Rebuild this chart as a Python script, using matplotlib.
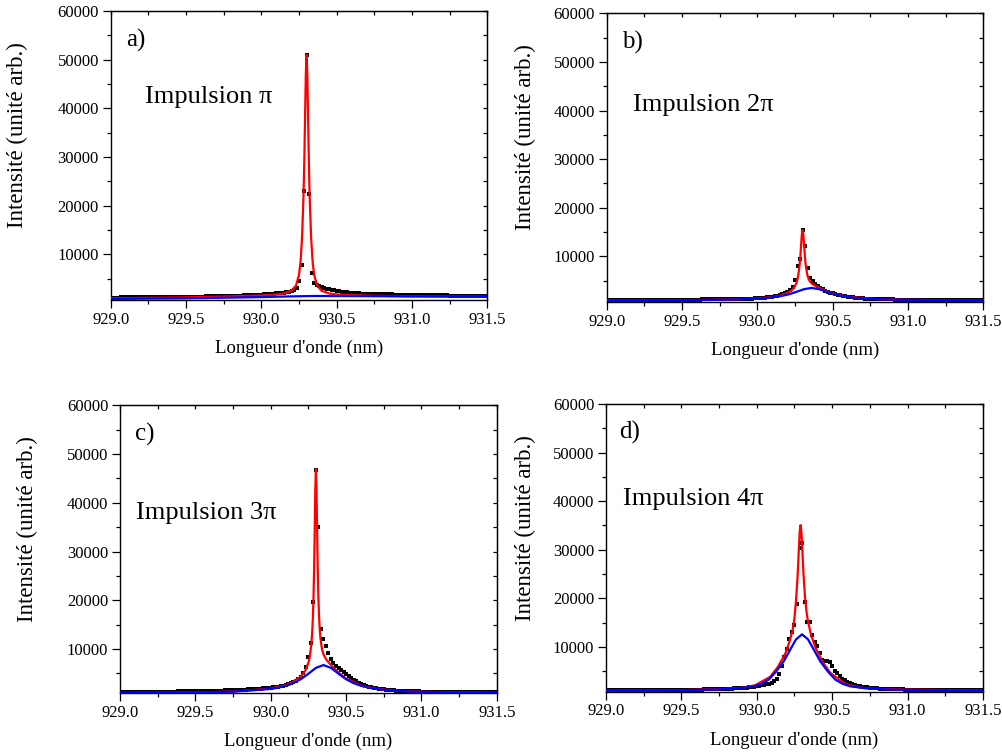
import matplotlib
matplotlib.use('Agg')
import matplotlib.pyplot as plt
import numpy as np
from matplotlib.ticker import MultipleLocator, FormatStrFormatter

plt.rcParams['font.family'] = ['Liberation Serif', 'DejaVu Serif']

# wavelength grid of the measured spectra (nm), one pixel every 1/60 nm
wl = 929.0 + np.arange(151) / 60.0

data_a = [1100, 1100, 1110, 1110, 1120, 1120, 1130, 1130, 1140, 1140,
          1150, 1150, 1160, 1160, 1170, 1170, 1180, 1180, 1190, 1190,
          1200, 1200, 1210, 1210, 1220, 1220, 1230, 1230, 1240, 1250,
          1250, 1260, 1270, 1280, 1290, 1300, 1310, 1320, 1330, 1340,
          1350, 1360, 1370, 1390, 1400, 1420, 1430, 1450, 1460, 1480,
          1500, 1510, 1530, 1550, 1570, 1590, 1610, 1630, 1660, 1690,
          1720, 1750, 1780, 1820, 1860, 1900, 1950, 2000, 2060, 2130,
          2220, 2330, 2480, 2700, 3100, 4500, 7700, 23000, 51000, 22400,
          6200, 4200, 3700, 3400, 3200, 3050, 2900, 2780, 2670, 2560,
          2460, 2380, 2300, 2230, 2170, 2120, 2070, 2030, 1990, 1960,
          1930, 1900, 1880, 1860, 1840, 1820, 1800, 1790, 1780, 1770,
          1760, 1750, 1740, 1730, 1720, 1710, 1700, 1690, 1680, 1670,
          1660, 1650, 1640, 1630, 1620, 1610, 1600, 1600, 1590, 1580,
          1570, 1560, 1560, 1550, 1540, 1530, 1530, 1520, 1510, 1500,
          1500, 1490, 1480, 1480, 1470, 1460, 1460, 1450, 1440, 1440, 1430]

data_b = [1000, 1000, 1000, 1000, 1010, 1010, 1010, 1010, 1020, 1020,
          1020, 1020, 1030, 1030, 1030, 1030, 1040, 1040, 1040, 1040,
          1050, 1050, 1050, 1060, 1060, 1060, 1070, 1070, 1070, 1080,
          1080, 1080, 1090, 1090, 1100, 1100, 1110, 1110, 1120, 1120,
          1130, 1130, 1140, 1150, 1150, 1160, 1170, 1180, 1190, 1200,
          1210, 1220, 1230, 1240, 1260, 1270, 1290, 1300, 1320, 1340,
          1360, 1400, 1450, 1510, 1570, 1640, 1720, 1810, 1920, 2070,
          2250, 2450, 2700, 3100, 3700, 5100, 8000, 9500, 15500, 12100,
          7500, 5500, 4950, 4400, 3900, 3500, 3200, 2950, 2700, 2550,
          2400, 2250, 2100, 1970, 1850, 1750, 1660, 1590, 1530, 1470,
          1420, 1380, 1340, 1310, 1280, 1250, 1230, 1210, 1190, 1170,
          1160, 1150, 1140, 1130, 1120, 1110, 1100, 1100, 1090, 1090,
          1080, 1080, 1070, 1070, 1060, 1060, 1060, 1050, 1050, 1050,
          1040, 1040, 1040, 1040, 1030, 1030, 1030, 1030, 1020, 1020,
          1020, 1020, 1020, 1010, 1010, 1010, 1010, 1000, 1000, 1000, 1000]

data_c = [1150, 1150, 1160, 1160, 1170, 1170, 1180, 1180, 1190, 1190,
          1200, 1200, 1210, 1210, 1220, 1220, 1230, 1240, 1240, 1250,
          1250, 1260, 1270, 1280, 1280, 1290, 1300, 1310, 1320, 1330,
          1340, 1350, 1360, 1370, 1380, 1400, 1410, 1420, 1440, 1450,
          1470, 1480, 1500, 1520, 1540, 1560, 1580, 1600, 1630, 1650,
          1680, 1710, 1740, 1780, 1810, 1850, 1890, 1940, 1990, 2040,
          2090, 2150, 2220, 2300, 2390, 2500, 2630, 2780, 2960, 3180,
          3450, 3800, 4300, 5000, 6200, 8400, 11200, 19700, 46800, 35000,
          14200, 12000, 10600, 9200, 7900, 7100, 6500, 6000, 5600, 5200,
          4800, 4400, 4000, 3650, 3350, 3100, 2850, 2650, 2450, 2300,
          2150, 2050, 1950, 1850, 1780, 1720, 1660, 1610, 1560, 1520,
          1480, 1450, 1420, 1390, 1370, 1350, 1330, 1310, 1300, 1280,
          1270, 1260, 1250, 1240, 1230, 1220, 1210, 1210, 1200, 1200,
          1190, 1190, 1180, 1180, 1170, 1170, 1160, 1160, 1150, 1150,
          1150, 1140, 1140, 1140, 1130, 1130, 1130, 1120, 1120, 1120, 1120]

data_d = [1050, 1050, 1050, 1060, 1060, 1060, 1070, 1070, 1070, 1080,
          1080, 1080, 1090, 1090, 1090, 1100, 1100, 1100, 1110, 1110,
          1120, 1120, 1130, 1130, 1140, 1140, 1150, 1150, 1160, 1170,
          1170, 1180, 1190, 1200, 1200, 1210, 1220, 1230, 1240, 1250,
          1260, 1280, 1290, 1300, 1320, 1340, 1350, 1370, 1390, 1420,
          1440, 1470, 1500, 1530, 1570, 1610, 1650, 1700, 1760, 1820,
          1900, 1980, 2070, 2180, 2300, 2450, 2650, 2950, 3400, 4400,
          6000, 8000, 9500, 11650, 13000, 14500, 18800, 30300, 31300, 19200,
          15200, 15200, 12500, 11000, 10200, 8800, 7300, 7200, 7100, 7000,
          6000, 5000, 4600, 4000, 3500, 3100, 2800, 2550, 2350, 2200,
          2050, 1950, 1850, 1770, 1700, 1640, 1580, 1530, 1490, 1450,
          1420, 1390, 1360, 1340, 1320, 1300, 1280, 1270, 1250, 1240,
          1230, 1220, 1210, 1200, 1190, 1180, 1170, 1170, 1160, 1150,
          1150, 1140, 1140, 1130, 1130, 1120, 1120, 1110, 1110, 1100,
          1100, 1100, 1090, 1090, 1090, 1080, 1080, 1080, 1070, 1070, 1070]

# total fits (red)
red_x_ab = [929.0, 929.5, 929.8, 930.0, 930.1, 930.15, 930.2, 930.23, 930.25,
            930.26, 930.27, 930.28, 930.285, 930.29, 930.295, 930.30, 930.305,
            930.31, 930.315, 930.32, 930.33, 930.34, 930.35, 930.37, 930.40,
            930.45, 930.50, 930.60, 930.80, 931.0, 931.5]
red_a = [950, 1150, 1350, 1550, 1750, 1950, 2500, 3600, 5800, 8500, 13500,
         22300, 29300, 38300, 47000, 51000, 47000, 38300, 29300, 22300, 13500,
         8500, 5800, 3600, 2500, 1950, 1750, 1600, 1450, 1380, 1300]
red_b = [935, 985, 1090, 1325, 1640, 1933, 2460, 3075, 3870, 4580, 5800,
         8085, 9890, 12175, 14410, 15440, 14510, 12380, 10195, 8490, 6390,
         5335, 4770, 4180, 3700, 2970, 2380, 1670, 1180, 1040, 947]
red_x_c = [929.0, 929.5, 929.75, 930.0, 930.1, 930.15, 930.2, 930.23, 930.25,
           930.26, 930.27, 930.275, 930.28, 930.284, 930.288, 930.292, 930.296,
           930.30, 930.304, 930.308, 930.312, 930.316, 930.32, 930.325, 930.33,
           930.34, 930.35, 930.37, 930.4, 930.45, 930.5, 930.6, 930.7, 930.8,
           931.0, 931.5]
red_c = [990, 1090, 1260, 1865, 2580, 3250, 4380, 5600, 7135, 8535, 11050,
         13180, 16460, 20450, 26255, 34195, 42750, 46920, 42920, 34530, 26750,
         21100, 17280, 14180, 12230, 10040, 8920, 7765, 6700, 5175, 3946, 2500,
         1840, 1510, 1210, 1010]
red_x_d = [929.0, 929.5, 929.75, 929.9, 929.99, 930.09, 930.14, 930.19, 930.22,
           930.24, 930.25, 930.26, 930.27, 930.275, 930.28, 930.285, 930.29,
           930.295, 930.30, 930.305, 930.31, 930.32, 930.33, 930.34, 930.36,
           930.39, 930.44, 930.49, 930.59, 930.69, 930.79, 930.99, 931.5]
red_d = [1010, 1120, 1300, 1580, 2120, 3880, 5900, 8700, 11380, 13870, 15950,
         19470, 24200, 27410, 30870, 33790, 35050, 34040, 31370, 28010, 24900,
         20220, 17200, 15220, 12490, 9820, 6740, 4590, 2320, 1610, 1380, 1220,
         1040]

# broad component (blue)
blue_x_a = [929.0, 929.5, 930.0, 930.2, 930.35, 930.5, 930.8, 931.0, 931.5]
blue_a = [820, 950, 1200, 1350, 1430, 1420, 1380, 1340, 1300]
blue_x_b = [929.0, 929.5, 929.76, 930.0, 930.06, 930.16, 930.21, 930.26, 930.31,
            930.36, 930.41, 930.46, 930.51, 930.56, 930.66, 930.76, 930.96, 931.5]
blue_b = [930, 980, 1050, 1290, 1420, 1840, 2200, 2700, 3240, 3500, 3240, 2700,
          2200, 1840, 1420, 1220, 1050, 945]
blue_x_c = [929.0, 929.5, 929.75, 930.0, 930.05, 930.1, 930.15, 930.2, 930.25,
            930.3, 930.35, 930.4, 930.45, 930.5, 930.55, 930.6, 930.65, 930.7,
            930.8, 930.95, 931.2, 931.5]
blue_c = [970, 1075, 1240, 1800, 2060, 2435, 2990, 3800, 4915, 6120, 6700, 6120,
          4915, 3800, 2990, 2435, 2060, 1800, 1480, 1240, 1075, 1000]
blue_x_d = [929.0, 929.5, 929.73, 929.88, 929.98, 930.03, 930.08, 930.13, 930.18,
            930.23, 930.26, 930.30, 930.34, 930.37, 930.42, 930.47, 930.52,
            930.57, 930.62, 930.72, 930.87, 931.12, 931.5]
blue_d = [1000, 1100, 1250, 1500, 1900, 2400, 3300, 5000, 7100, 9900, 11550,
          12600, 11550, 9900, 7100, 5000, 3300, 2400, 1900, 1500, 1250, 1100, 1030]

letters = ['a)', 'b)', 'c)', 'd)']
pulses = ['Impulsion \u03c0', 'Impulsion 2\u03c0', 'Impulsion 3\u03c0', 'Impulsion 4\u03c0']
y_bottom = [610, 660, 900, 800]

panels = [
    (data_a, red_x_ab, red_a, blue_x_a, blue_a),
    (data_b, red_x_ab, red_b, blue_x_b, blue_b),
    (data_c, red_x_c, red_c, blue_x_c, blue_c),
    (data_d, red_x_d, red_d, blue_x_d, blue_d),
]

rects = [[0.1104, 0.6032, 0.3755, 0.3823],
         [0.6049, 0.6009, 0.3755, 0.3815],
         [0.1196, 0.0829, 0.3757, 0.3810],
         [0.6042, 0.0851, 0.3758, 0.3806]]
letter_pos = [(0.041, 0.876), (0.042, 0.879), (0.040, 0.877), (0.035, 0.881)]
pulse_pos = [(0.091, 0.681), (0.069, 0.661), (0.042, 0.604), (0.046, 0.649)]
ylab_x = [-0.220, -0.188, -0.217, -0.186]

fig = plt.figure(figsize=(10.03, 7.56), dpi=100)

for k in range(4):
    dat, rx, ry, bx, by = panels[k]
    ax = fig.add_axes(rects[k])
    ax.plot(wl, dat, 's', color='black', ms=3.0, mew=0, zorder=2)
    ax.plot(rx, ry, color='red', lw=1.6, zorder=3)
    ax.plot(bx, by, color='blue', lw=1.6, zorder=4)

    ax.set_xlim(929.0, 931.5)
    ax.set_ylim(y_bottom[k], 60000)
    ax.xaxis.set_major_locator(MultipleLocator(0.5))
    ax.xaxis.set_minor_locator(MultipleLocator(0.25))
    ax.yaxis.set_major_locator(MultipleLocator(10000))
    ax.yaxis.set_minor_locator(MultipleLocator(5000))
    ax.xaxis.set_major_formatter(FormatStrFormatter('%.1f'))
    ax.yaxis.set_major_formatter(FormatStrFormatter('%d'))
    ax.tick_params(which='major', direction='out', length=5.5, width=0.9,
                   labelsize=12, pad=3)
    ax.tick_params(which='minor', direction='out', length=3, width=0.9)
    for s in ax.spines.values():
        s.set_linewidth(1.0)

    # inward ticks on top and right, no labels
    sx = ax.secondary_xaxis('top')
    sx.xaxis.set_major_locator(MultipleLocator(0.5))
    sx.xaxis.set_minor_locator(MultipleLocator(0.25))
    sx.tick_params(which='both', direction='in', length=3, width=0.9, labeltop=False)
    sy = ax.secondary_yaxis('right')
    sy.yaxis.set_major_locator(MultipleLocator(10000))
    sy.yaxis.set_minor_locator(MultipleLocator(5000))
    sy.tick_params(which='both', direction='in', length=3, width=0.9, labelright=False)

    ax.set_xlabel("Longueur d'onde (nm)", fontsize=13.5)
    ax.xaxis.set_label_coords(0.5, -0.138)
    ax.set_ylabel('Intensité (unité arb.)', fontsize=16.5)
    ax.yaxis.set_label_coords(ylab_x[k], 0.57)

    ax.text(letter_pos[k][0], letter_pos[k][1], letters[k], transform=ax.transAxes,
            fontsize=18, va='baseline', ha='left')
    ax.text(pulse_pos[k][0], pulse_pos[k][1], pulses[k], transform=ax.transAxes,
            fontsize=19, va='baseline', ha='left')

fig.savefig('out.png', dpi=100)
